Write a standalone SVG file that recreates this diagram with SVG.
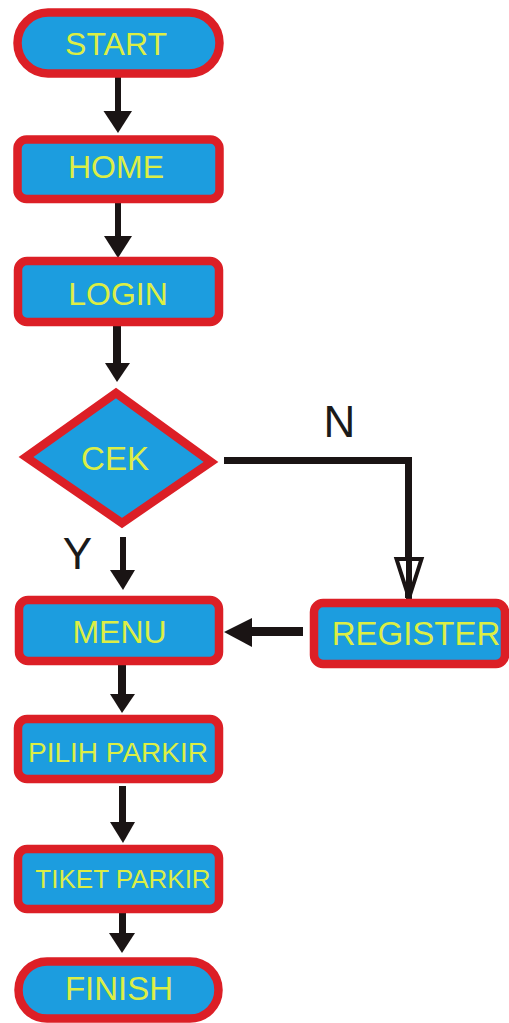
<svg xmlns="http://www.w3.org/2000/svg" width="509" height="1023" viewBox="0 0 509 1023">
<style>
.box{fill:#1C9DDF;stroke:#DC1F26;stroke-width:8.5}
.lbl{font-family:"Liberation Sans",Arial,sans-serif;fill:#DCEE45;text-anchor:middle}
.yn{font-family:"Liberation Sans",Arial,sans-serif;fill:#1a1a1a;text-anchor:middle;font-size:44px}
.ar{fill:#1a1414}
</style>
<rect width="509" height="1023" fill="#ffffff"/>
<g id="connectors">
  <rect class="ar" x="115" y="76" width="6" height="37"/>
  <polygon class="ar" points="103.5,111 132,111 118,133"/>
  <rect class="ar" x="115" y="201" width="6" height="37"/>
  <polygon class="ar" points="104,236 132,236 118,258"/>
  <rect class="ar" x="113" y="326" width="8" height="39"/>
  <polygon class="ar" points="105,363 130,363 117,382"/>
  <rect class="ar" x="120" y="537" width="6" height="35"/>
  <polygon class="ar" points="110,570 135,570 123,590"/>
  <rect class="ar" x="118" y="665" width="8" height="31"/>
  <polygon class="ar" points="110,694 135,694 122,713"/>
  <rect class="ar" x="119" y="786" width="7" height="38"/>
  <polygon class="ar" points="110,822 135,822 123,843"/>
  <rect class="ar" x="119" y="913" width="7" height="22"/>
  <polygon class="ar" points="109,933 135,933 122,953"/>
  <polyline points="224,460.5 408.5,460.5 408.5,598" fill="none" stroke="#1a1414" stroke-width="7"/>
  <polygon points="396.5,559 421.5,559 409,598" fill="#ffffff" stroke="#1a1414" stroke-width="4" stroke-linejoin="miter"/>
  <rect class="ar" x="406" y="558" width="6" height="43"/>
  <rect class="ar" x="249" y="627" width="54" height="9"/>
  <polygon class="ar" points="252,618 252,647 224,632"/>
</g>
<g id="start">
  <rect class="box" x="17.5" y="12.5" width="202" height="61" rx="30.5" stroke-width="9"/>
  <text class="lbl" x="116" y="55" font-size="32">START</text>
</g>
<g id="home">
  <rect class="box" x="17.5" y="139.5" width="202" height="59.5" rx="9"/>
  <text class="lbl" x="116" y="178" font-size="32">HOME</text>
</g>
<g id="login">
  <rect class="box" x="18" y="261" width="201" height="61" rx="9"/>
  <text class="lbl" x="118" y="305" font-size="32">LOGIN</text>
</g>
<g id="cek">
  <polygon class="box" points="26,457 116,393 211,462 122,523"/>
  <text class="lbl" x="115" y="470" font-size="33">CEK</text>
</g>
<g id="menu">
  <rect class="box" x="19" y="600" width="200" height="61" rx="9"/>
  <text class="lbl" x="119.5" y="643" font-size="32">MENU</text>
</g>
<g id="register">
  <rect class="box" x="314" y="603" width="191" height="61" rx="9"/>
  <text class="lbl" x="416" y="645" font-size="33">REGISTER</text>
</g>
<g id="pilih-parkir">
  <rect class="box" x="18" y="719" width="201" height="60" rx="9"/>
  <text class="lbl" x="118" y="762" font-size="28">PILIH PARKIR</text>
</g>
<g id="tiket-parkir">
  <rect class="box" x="18" y="849" width="201" height="60" rx="9"/>
  <text class="lbl" x="123" y="888" font-size="26">TIKET PARKIR</text>
</g>
<g id="finish">
  <rect class="box" x="18.5" y="961.5" width="200" height="57" rx="28.5" stroke-width="9"/>
  <text class="lbl" x="119" y="1000" font-size="33">FINISH</text>
</g>
<g id="labels">
  <text class="yn" x="339.5" y="437">N</text>
  <text class="yn" x="77.5" y="569">Y</text>
</g>
</svg>
